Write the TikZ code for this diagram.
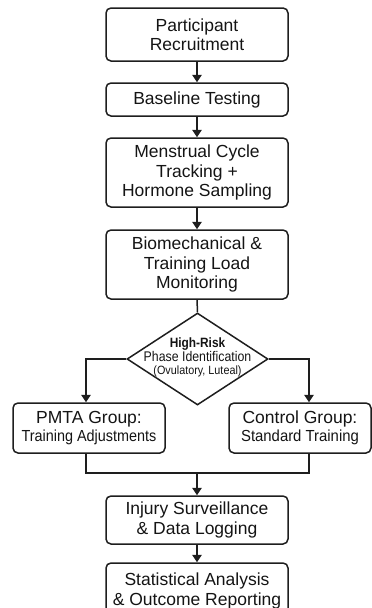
\documentclass[tikz,border=0pt]{standalone}
\usepackage{fontspec}
\setmainfont{Liberation Sans}
\usetikzlibrary{shapes.geometric,arrows.meta}
\definecolor{lc}{HTML}{1E1E1E}
\definecolor{tc}{HTML}{141414}
\begin{document}
\begin{tikzpicture}[x=1pt,y=-1pt,
  box/.style={draw=lc, line width=1.5pt, rounded corners=5pt, minimum width=182pt, inner sep=0pt, align=center, font=\fontsize{17.5}{19.5}\selectfont, text=tc},
  arr/.style={draw=lc, line width=1.5pt, -{Triangle[width=9.5pt,length=7.5pt]}},
  ln/.style={draw=lc, line width=1.5pt},
  dia/.style={draw=lc, line width=1.5pt, diamond, minimum width=141pt, minimum height=92pt, inner sep=0pt},
  dtext/.style={align=center, text=tc, inner sep=0pt, font=\fontsize{14}{15}\selectfont}]
\useasboundingbox (0,0) rectangle (372,608);
\clip (0,0) rectangle (372,608);
\node[box, minimum height=53pt] (n1) at (197,34.5) {Participant\\Recruitment};
\node[box, minimum height=33pt] (n2) at (197,99.5) {Baseline Testing};
\node[box, minimum height=69pt] (n3) at (197,172.5) {Menstrual Cycle\\Tracking +\\Hormone Sampling};
\node[box, minimum height=69pt] (n4) at (197,264.5) {Biomechanical \&\\Training Load\\Monitoring};
\node[dia] (d) at (197.5,359) {};
\node[dtext] (dt) at (197.5,357) {\scalebox{0.88}[1]{\bfseries\fontsize{13.5}{15}\selectfont High-Risk}\\[-1pt]\scalebox{0.88}[1]{Phase Identification}\\[-2pt]\scalebox{0.9}[1]{\fontsize{12}{13}\selectfont (Ovulatory, Luteal)}};
\node[box, minimum width=152pt, minimum height=50pt] (pm) at (89,428) {PMTA Group:\\[-2pt]\scalebox{0.9}[1]{\fontsize{16}{17}\selectfont Training Adjustments}};
\node[box, minimum width=142pt, minimum height=50pt] (ct) at (300,428) {Control Group:\\[-2pt]\scalebox{0.93}[1]{\fontsize{16}{17}\selectfont Standard Training}};
\node[box, minimum height=48pt] (n6) at (197,520) {Injury Surveillance\\\& Data Logging};
\node[box, minimum height=56pt] (n7) at (197,591) {Statistical Analysis\\\& Outcome Reporting};
\coordinate (mj) at (197,473);
\draw[arr] (n1.south) -- (n2.north);
\draw[arr] (n2.south) -- (n3.north);
\draw[arr] (n3.south) -- (n4.north);
\draw[ln] (n4.south) -- (d.north);
\draw[arr] (d.west) -| ([xshift=-3pt]pm.north);
\draw[arr] (d.east) -| ([xshift=9pt]ct.north);
\draw[ln] ([xshift=-3pt]pm.south) |- (mj) -| ([xshift=9pt]ct.south);
\draw[arr] (mj) -- (n6.north);
\draw[arr] (n6.south) -- (n7.north);
\end{tikzpicture}
\end{document}
